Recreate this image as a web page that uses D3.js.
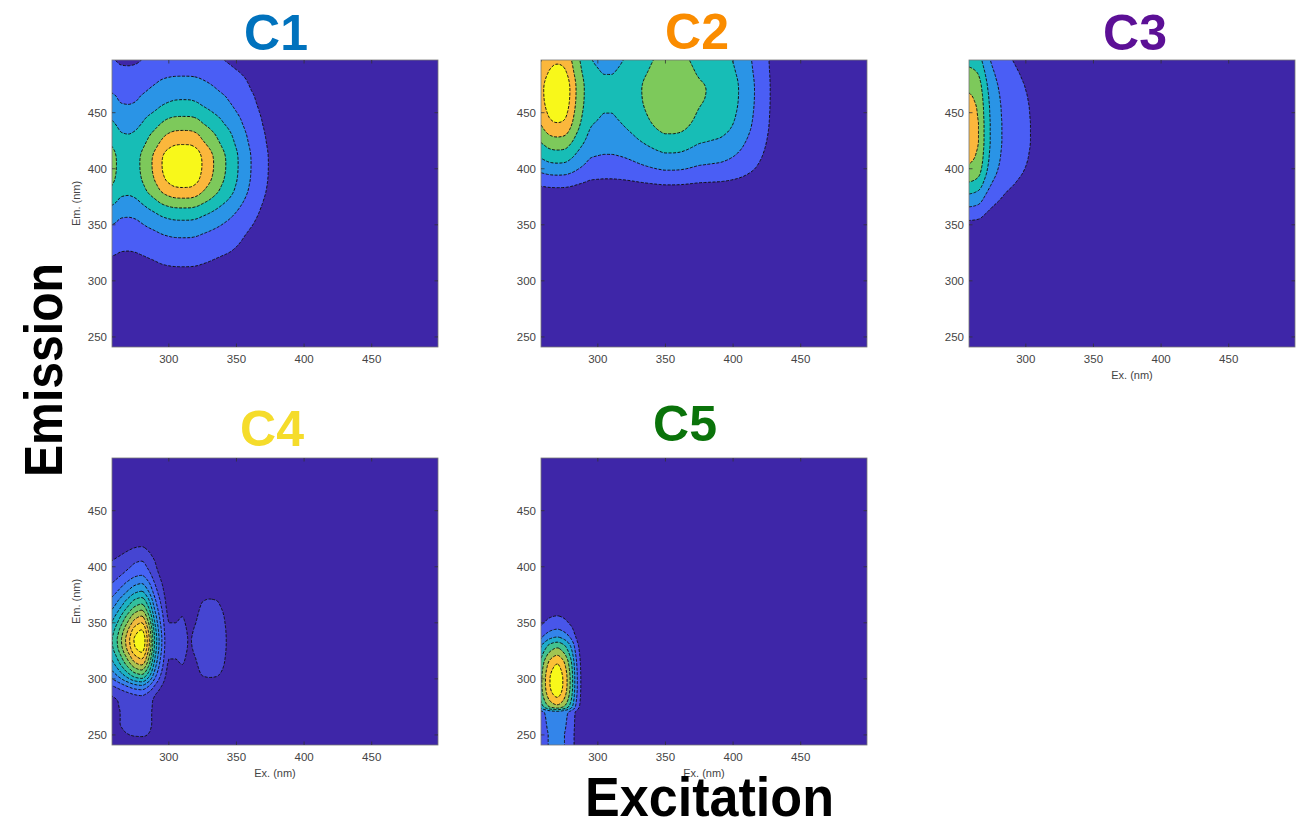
<!DOCTYPE html>
<html>
<head>
<meta charset="utf-8">
<script src="https://cdn.jsdelivr.net/npm/d3@7"></script>
<style>
  body { margin: 0; background: #ffffff; }
  svg { display: block; }
  text { font-family: "Liberation Sans", Arial, Helvetica, sans-serif; }
</style>
</head>
<body>
<svg id="chart" width="1304" height="820"></svg>
<script>
// ---------------- DATA ----------------
// sampling wavelengths of the loadings (nm)
const exGrid = d3.range(255, 501, 5);   // 50 excitation wavelengths
const emGrid = d3.range(240, 501, 5);   // 53 emission wavelengths
const exTicks = [300, 350, 400, 450];
const emTicks = [250, 300, 350, 400, 450];
const componentNames = ["C1", "C2", "C3", "C4", "C5"];

// Excitation / emission loadings of each component
const c1Ex = [0.64,0.58,0.51,0.50,0.52,0.58,0.66,0.74,0.84,0.92,0.98,1.00,0.99,0.93,0.83,0.75,0.67,0.59,0.52,0.44,
              0.36,0.29,0.23,0.17,0.13,0.10,0.075,0.055,0.04,0.03,0.025,0.02,0.015,0.01,
              0,0,0,0,0,0,0,0,0,0,0,0,0,0,0,0];
const c1Em = [0,0,0,0,0,0.005,0.01,0.02,0.03,0.045,0.06,0.08,0.10,0.115,0.13,0.15,0.17,0.20,0.23,0.26,
              0.29,0.33,0.38,0.43,0.49,0.56,0.64,0.72,0.80,0.86,0.92,0.96,0.99,1.00,0.98,0.93,0.86,0.80,0.75,0.69,
              0.63,0.58,0.52,0.47,0.43,0.40,0.36,0.33,0.30,0.26,0.22,0.195,0.18];
const c1Levels = [0.14, 0.28, 0.42, 0.56, 0.70, 0.84];

const c2Ex = [0.74,0.84,0.95,1.00,0.96,0.82,0.67,0.56,0.47,0.45,0.438,0.438,0.45,0.47,0.50,0.54,0.58,0.62,0.66,0.69,
              0.69,0.68,0.65,0.61,0.575,0.56,0.545,0.53,0.50,0.46,0.41,0.35,0.29,0.23,0.17,0.11,0.06,0.03,0.015,0.005,
              0,0,0,0,0,0,0,0,0,0];
const c2Em = [0,0,0,0,0,0,0,0,0,0,0,0,0,0,0,0,0,0,0,
              0.003,0.005,0.008,0.01,0.015,0.02,0.03,0.05,0.075,0.11,0.16,0.22,0.29,0.36,0.42,0.48,0.54,0.60,0.66,0.72,
              0.78,0.83,0.87,0.905,0.94,0.97,0.99,1.00,0.98,0.94,0.895,0.86,0.83,0.80];
const c2Levels = [0.14, 0.28, 0.42, 0.56, 0.70, 0.84];

const c3Ex = [1.00,0.97,0.90,0.68,0.50,0.40,0.32,0.27,0.23,0.20,0.17,0.13,0.09,0.06,0.04,0.02,0.01,
              0,0,0,0,0,0,0,0,0,0,0,0,0,0,0,0,0,0,0,0,0,0,0,0,0,0,0,0,0,0,0,0,0];
const c3Em = [0,0,0,0,0,0,0,0,0,0,0,0,0,0,0,0,0,0,
              0.02,0.04,0.06,0.09,0.13,0.20,0.27,0.35,0.43,0.51,0.59,0.68,0.76,0.83,0.88,0.92,0.95,0.97,0.99,1.00,
              1.00,1.00,1.00,0.99,0.98,0.97,0.95,0.93,0.90,0.87,0.83,0.79,0.74,0.69,0.64];
const c3Levels = [0.18, 0.36, 0.54, 0.72, 0.90, 1.08];

const c4Ex = [0.45,0.55,0.68,0.82,0.95,1.00,0.80,0.48,0.25,0.10,0.10,0.11,0.082,0.10,0.15,0.16,0.155,0.12,0.05,0.02,0.01,
              0,0,0,0,0,0,0,0,0,0,0,0,0,0,0,0,0,0,0,0,0,0,0,0,0,0,0,0,0];
const c4Em = [0,0.04,0.10,0.12,0.13,0.13,0.13,0.135,0.14,0.17,0.25,0.36,0.50,0.62,0.72,0.81,0.88,0.95,0.99,1.00,
              0.97,0.92,0.85,0.78,0.70,0.62,0.55,0.47,0.40,0.34,0.28,0.23,0.195,0.17,0.13,0.10,0.075,0.05,0.04,0.03,
              0.02,0.01,0.005,0,0,0,0,0,0,0,0,0,0];
const c4Levels = [0.085, 0.17, 0.255, 0.34, 0.425, 0.51, 0.595, 0.68, 0.765, 0.85, 0.935];

const c5Ex = [0.45,0.72,0.92,1.00,0.88,0.62,0.25,0.05,0.01,
              0,0,0,0,0,0,0,0,0,0,0,0,0,0,0,0,0,0,0,0,0,0,0,0,0,0,0,0,0,0,0,0,0,0,0,0,0,0,0,0,0];
const c5Em = [0.30,0.30,0.30,0.31,0.32,0.33,0.35,0.72,0.85,0.93,0.98,1.00,1.00,0.98,0.94,0.89,0.80,0.70,0.60,0.45,
              0.33,0.25,0.18,0.14,0.10,0.07,0.05,0.03,0.02,0.01,0.005,
              0,0,0,0,0,0,0,0,0,0,0,0,0,0,0,0,0,0,0,0,0,0];
const c5Levels = [0.13, 0.26, 0.39, 0.52, 0.65, 0.78, 0.91];

// how the two loadings are combined (1 = plain product, >1 = rounder contours)
const combineExponent = [1.3, 1.3, 1.0, 1.0, 1.0];

// ---------------- STYLE / LAYOUT ----------------
const parulaStops = ["#3e26a8", "#4a5ef5", "#2a94e6", "#17bdb6", "#7dc95b", "#fbb73c", "#f8f81a"];
const titleColors = ["#0072bd", "#fa8c00", "#5c1096", "#f5dc2b", "#0a730a"];

const components = [
  { ex: c1Ex, em: c1Em, levels: c1Levels },
  { ex: c2Ex, em: c2Em, levels: c2Levels },
  { ex: c3Ex, em: c3Em, levels: c3Levels },
  { ex: c4Ex, em: c4Em, levels: c4Levels },
  { ex: c5Ex, em: c5Em, levels: c5Levels }
];

const panelW = 326, panelH = 287;
const layout = [
  { x: 112, y: 60,  tx: 276,  ty: 50,  emLab: true,  exLab: false },
  { x: 541, y: 60,  tx: 697,  ty: 49,  emLab: false, exLab: false },
  { x: 969, y: 60,  tx: 1135, ty: 50,  emLab: false, exLab: true },
  { x: 112, y: 458, tx: 272,  ty: 446, emLab: true,  exLab: true },
  { x: 541, y: 458, tx: 685,  ty: 441, emLab: false, exLab: true }
];
const exDomain = [258, 499], emDomain = [241, 497];

const parula = d3.scaleLinear()
  .domain(parulaStops.map((_, i) => i / (parulaStops.length - 1)))
  .range(parulaStops)
  .interpolate(d3.interpolateRgb);

// monotone cubic (Fritsch-Butland) resampling of a loading for smooth drawing
function monotone(xs, ys) {
  const n = xs.length, h = xs[1] - xs[0];
  const d = d3.range(n - 1).map(i => (ys[i + 1] - ys[i]) / h);
  const m = ys.map((_, i) => {
    if (i === 0) return d[0];
    if (i === n - 1) return d[n - 2];
    const a = d[i - 1], b = d[i];
    return a * b <= 0 ? 0 : 2 * a * b / (a + b);
  });
  return x => {
    let i = Math.floor((x - xs[0]) / h);
    i = Math.max(0, Math.min(n - 2, i));
    const t = (x - xs[i]) / h, t2 = t * t, t3 = t2 * t;
    return (2*t3 - 3*t2 + 1) * ys[i] + (t3 - 2*t2 + t) * h * m[i] +
           (-2*t3 + 3*t2) * ys[i + 1] + (t3 - t2) * h * m[i + 1];
  };
}

const exFine = d3.range(255, 500.5, 1);
const emFine = d3.range(240, 500.5, 1);
const nx = exFine.length, ny = emFine.length;

const svg = d3.select("#chart");
const defs = svg.append("defs");

components.forEach((comp, ci) => {
  const L = layout[ci];
  const q = combineExponent[ci];
  const xS = d3.scaleLinear().domain(exDomain).range([L.x, L.x + panelW]);
  const yS = d3.scaleLinear().domain(emDomain).range([L.y + panelH, L.y]);

  const fa = monotone(exGrid, comp.ex), fb = monotone(emGrid, comp.em);
  const av = exFine.map(v => Math.max(1e-9, fa(v)));
  const bv = emFine.map(v => Math.max(1e-9, fb(v)));
  const values = new Array(nx * ny);
  for (let j = 0; j < ny; j++) {
    const lb = -Math.log(Math.min(1, bv[j]));
    for (let i = 0; i < nx; i++) {
      if (q === 1) { values[j * nx + i] = av[i] * bv[j]; continue; }
      const la = -Math.log(Math.min(1, av[i]));
      values[j * nx + i] = Math.exp(-Math.pow(Math.pow(la, q) + Math.pow(lb, q), 1 / q));
    }
  }

  const contours = d3.contours().size([nx, ny]).thresholds(comp.levels)(values);
  const proj = d3.geoTransform({
    point: function (x, y) {
      this.stream.point(xS(exFine[0] + (x - 0.5)), yS(emFine[0] + (y - 0.5)));
    }
  });
  const path = d3.geoPath(proj);

  const clipId = "clip" + ci;
  defs.append("clipPath").attr("id", clipId).append("rect")
    .attr("x", L.x).attr("y", L.y).attr("width", panelW).attr("height", panelH);

  const g = svg.append("g").attr("clip-path", `url(#${clipId})`);
  g.append("rect").attr("x", L.x).attr("y", L.y).attr("width", panelW).attr("height", panelH)
    .attr("fill", parula(0));
  const n = comp.levels.length;
  g.selectAll("path.fill").data(contours).join("path").attr("class", "fill")
    .attr("d", path).attr("fill", (d, k) => parula((k + 1) / n)).attr("stroke", "none");
  g.selectAll("path.line").data(contours).join("path").attr("class", "line")
    .attr("d", path).attr("fill", "none").attr("stroke", "#111")
    .attr("stroke-width", 1).attr("stroke-dasharray", "3 1.5");

  // box
  svg.append("rect").attr("x", L.x).attr("y", L.y).attr("width", panelW).attr("height", panelH)
    .attr("fill", "none").attr("stroke", "#777").attr("stroke-width", 0.8);

  // ticks (inward, all four sides)
  const tk = svg.append("g").attr("stroke", "#333").attr("stroke-width", 0.8);
  exTicks.forEach(v => {
    tk.append("line").attr("x1", xS(v)).attr("x2", xS(v)).attr("y1", L.y + panelH).attr("y2", L.y + panelH - 3.5);
    tk.append("line").attr("x1", xS(v)).attr("x2", xS(v)).attr("y1", L.y).attr("y2", L.y + 3.5);
  });
  emTicks.forEach(v => {
    tk.append("line").attr("y1", yS(v)).attr("y2", yS(v)).attr("x1", L.x).attr("x2", L.x + 3.5);
    tk.append("line").attr("y1", yS(v)).attr("y2", yS(v)).attr("x1", L.x + panelW).attr("x2", L.x + panelW - 3.5);
  });

  // tick labels
  svg.append("g").selectAll("text").data(exTicks).join("text")
    .attr("x", d => xS(d)).attr("y", L.y + panelH + 15.5)
    .attr("text-anchor", "middle").attr("font-size", 11.5).attr("fill", "#444")
    .text(d => d);
  svg.append("g").selectAll("text").data(emTicks).join("text")
    .attr("x", L.x - 5).attr("y", d => yS(d)).attr("dy", "0.35em")
    .attr("text-anchor", "end").attr("font-size", 11.5).attr("fill", "#444")
    .text(d => d);

  if (L.emLab) {
    svg.append("text")
      .attr("transform", `translate(${L.x - 32},${L.y + panelH / 2}) rotate(-90)`)
      .attr("text-anchor", "middle").attr("font-size", 11).attr("fill", "#444")
      .text("Em. (nm)");
  }
  if (L.exLab) {
    svg.append("text")
      .attr("x", L.x + panelW / 2).attr("y", L.y + panelH + 32)
      .attr("text-anchor", "middle").attr("font-size", 11).attr("fill", "#444")
      .text("Ex. (nm)");
  }

  // component title
  svg.append("text").attr("x", L.tx).attr("y", L.ty)
    .attr("text-anchor", "middle").attr("font-size", 50).attr("font-weight", "bold")
    .attr("fill", titleColors[ci]).text(componentNames[ci]);
});

// overall axis titles
svg.append("text")
  .attr("transform", "translate(62,370) rotate(-90)")
  .attr("text-anchor", "middle").attr("font-size", 53).attr("font-weight", "bold")
  .attr("textLength", 214).attr("lengthAdjust", "spacingAndGlyphs")
  .attr("fill", "#000").text("Emission");
svg.append("text")
  .attr("x", 709.5).attr("y", 816)
  .attr("text-anchor", "middle").attr("font-size", 55).attr("font-weight", "bold")
  .attr("textLength", 249).attr("lengthAdjust", "spacingAndGlyphs")
  .attr("fill", "#000").text("Excitation");
</script>
</body>
</html>
